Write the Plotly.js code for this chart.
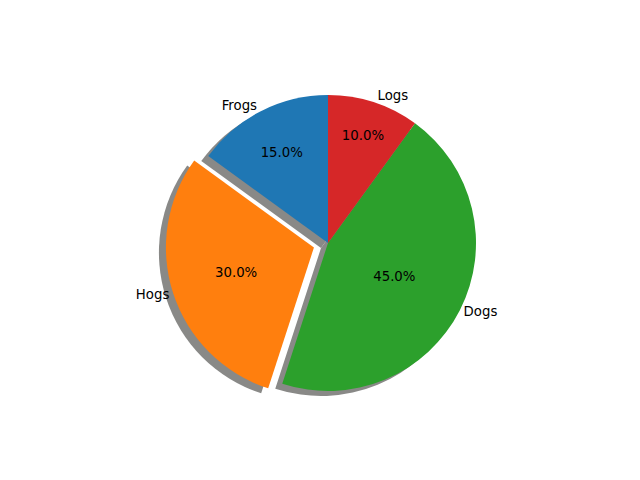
<!DOCTYPE html>
<html>
<head>
<meta charset="utf-8">
<script src="https://cdn.plot.ly/plotly-3.0.1.min.js"></script>
<style>html,body{margin:0;padding:0;background:#fff;}#chart{width:640px;height:480px;}</style>
</head>
<body>
<div id="chart"></div>
<script>
const labels = ["Frogs", "Hogs", "Dogs", "Logs"];
const sizes = [15, 30, 45, 10];
const explode = [0, 0.1, 0, 0];
const colors = ["#1f77b4", "#ff7f0e", "#2ca02c", "#d62728"];

const W = 640, H = 480;
const cx = 328, cy = 243, R = 148;
const half = R * (1 + Math.max(...explode));
const dom = {
  x: [(cx - half) / W, (cx + half) / W],
  y: [(H - cy - half) / H, (H - cy + half) / H]
};
const sdx = -7, sdy = 5;
const shadowDom = {
  x: [dom.x[0] + sdx / W, dom.x[1] + sdx / W],
  y: [dom.y[0] - sdy / H, dom.y[1] - sdy / H]
};
const total = sizes.reduce((a, b) => a + b, 0);
const rot = -360 * sizes[0] / total;
const font = {family: "DejaVu Sans", size: 13.3, color: "#000"};
const common = {
  type: "pie", labels: labels, values: sizes, pull: explode, sort: false,
  direction: "counterclockwise", rotation: rot, hoverinfo: "none", showlegend: false
};
const shadow = Object.assign({}, common, {
  domain: shadowDom,
  marker: {colors: labels.map(() => "#898987"), line: {width: 0}},
  textinfo: "none"
});
const main = Object.assign({}, common, {
  domain: dom,
  marker: {colors: colors, line: {width: 0}},
  textinfo: "percent", texttemplate: "%{percent:.1%}",
  textposition: "inside", insidetextorientation: "horizontal",
  insidetextfont: font
});
const lab = Object.assign({}, common, {
  domain: dom,
  marker: {colors: labels.map(() => "rgba(0,0,0,0)"), line: {width: 0}},
  textinfo: "label", textposition: "outside", outsidetextfont: font
});
Plotly.newPlot("chart", [shadow, main, lab], {
  width: W, height: H, margin: {l: 0, r: 0, t: 0, b: 0},
  paper_bgcolor: "#fff", showlegend: false
}, {staticPlot: true});
</script>
</body>
</html>
